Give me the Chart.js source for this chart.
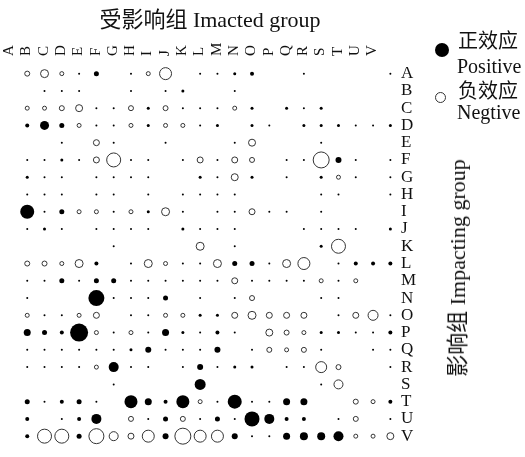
<!DOCTYPE html>
<html>
<head>
<meta charset="utf-8">
<script src="https://cdn.jsdelivr.net/npm/chart.js@4"></script>
<style>
  body { margin: 0; background: #fff; }
  #wrap { position: relative; width: 525px; height: 457px; }
  .txt { position: absolute; font-family: "Liberation Serif", "Noto Sans CJK SC", serif; color: #111; white-space: nowrap; }
  .dot { position: absolute; border-radius: 50%; box-sizing: border-box; }
</style>
</head>
<body>
<div id="wrap">
  <canvas id="matrix" width="525" height="457"></canvas>
  <div class="txt" style="left:0; width:420px; top:7px; line-height:26px; text-align:center; font-size:22px;">受影响组 Imacted group</div>
  <div class="dot" style="left:435px; top:43px; width:14px; height:14px; background:#000;"></div>
  <div class="txt" style="left:458px; top:30px; line-height:23px; font-size:20px;">正效应</div>
  <div class="txt" style="left:457px; top:55px; line-height:23px; font-size:20px;">Positive</div>
  <div class="dot" style="left:435px; top:92px; width:11px; height:11px; border:1px solid #333;"></div>
  <div class="txt" style="left:458px; top:80px; line-height:23px; font-size:20px;">负效应</div>
  <div class="txt" style="left:457px; top:101px; line-height:23px; font-size:20px;">Negtive</div>
  <div class="txt" style="left:458px; top:268px; line-height:24px; font-size:22px; transform:translate(-50%,-50%) rotate(-90deg);">影响组 Impacting group</div>
</div>
<script>
// 受影响组（列）与影响组（行）
const cols = ['A','B','C','D','E','F','G','H','I','J','K','L','M','N','O','P','Q','R','S','T','U','V'];
const rows = ['A','B','C','D','E','F','G','H','I','J','K','L','M','N','O','P','Q','R','S','T','U','V'];

// 每行的效应值：正数 = 正效应（实心），负数 = 负效应（空心），0 = 无
//            A    B    C    D    E    F    G    H    I    J    K    L    M    N    O    P    Q    R    S    T    U    V
const effA = [-2.5,-4,  -2,   1,  2.5,  0,   1,  -2,  -6,   0,   1,   1,  1.5,  2,   0,   0,   1,   0,   0,   0,   0,   1];
const effB = [ 0,   1,   1,   1,   0,   0,   1,   0,   1,  1.5,  0,   0,   1,   0,   0,   0,   0,   0,   0,   0,   0,   0];
const effC = [-2,  -2, -2.5,-3.5,  1,   1, -2.5, 1.5,-2.5,  1,   1,   1,  -2,  1.5,  0,  1.5,  1,  1.5,  0,   0,   0,   0];
const effD = [ 2,  4.5, 2.5, -2,   1,   1,  -2,  1.5, -2,  -2,   1,  1.5,  0,  1.5,  1,   0,  1.5, 1.5, 1.5,  1,   1,  1.5];
const effE = [ 0,   0,   1,   0,  -3,   1,   0,   0,   1,   0,   0,   0,   1, -3.5,  0,   0,   0,   1,   0,   0,   0,   0];
const effF = [ 1,   1,  1.5,  1,  -3,  -7,   1,   1,   0,   1,  -3,   1,  -3, -2.5,  0,   1,   1,  -8,   3,   1,   0,   1];
const effG = [1.5,  1,   1,   0,   1,   1,   1,   1,   0,   0,  1.5,  1, -3.5, 1.5,  0,   1,   0,  1.5, -2,   1,   0,   1];
const effH = [ 1,   1,   1,   0,   1,   1,   0,   1,   0,   1,   1,   1,   1,   0,   0,   0,   0,   1,   1,   0,   0,   1];
const effI = [ 7,   1,  2.5, -2,  -2,   1,  -2,  1.5, -4,   1,   0,   1,   1,  -3,   1,   1,   0,   1,   0,   0,   0,   0];
const effJ = [ 1,  1.5,  1,   0,   1,   1,   1,   1,   0,  1.5,  1,   1,   1,   0,   0,   0,   1,   1,   1,   1,   0,  1.5];
const effK = [ 0,   0,   0,   0,   0,   1,   0,   0,   0,   0,  -4,   0,   1,   0,   0,   0,   0,  1.5, -7,   0,   0,   0];
const effL = [-2.5,-2.5, -2,  -4,   2,   0,   1,  -4,  -2,   1,   1,  -4,  2.5, 2.5,  1,  -4,  -6,   0,   1,   2,   2,   2];
const effM = [ 1,   1,  2.5,  1,  2.5, 2.5,  1,   1,   1,   1,   1,   1,  -3,   1,   1,   1,   1,  -2,   1,  -2,   0,   0];
const effN = [ 1,   0,   0,   0,   8,   1,   1,   1,  2.5,  0,   1,   0,   1, -2.5,  0,   0,   0,   1,   1,   0,   0,   0];
const effO = [-2,   1,   1,  -2,  -3,   0,   1,   1,  -2,  -2,  1.5, 1.5, -3,  -4,  -3,  -3,  -3,   0,   1,  -3,  -5,   1];
const effP = [3.5, 2.5,  2,   9,  -2,   1,  -2,   1,  3.5, 1.5,  1,   2,   1,   0, -3.5,-2.5, -2,  1.5, 1.5,  1,   1,   2];
const effQ = [ 1,   1,   1,   1,   1,   1,  1.5,  3,   1,   1,   1,   3,   0,   1, -2.5, -2, -2.5,  1,   0,   0,   1,   1];
const effR = [ 1,   1,   1,   1,  -2,   5,   1,   1,   0,   1,   3,   1,  1.5, 1.5,  0,   1,   1, -5.5,-2.5,  0,   0,   1];
const effS = [ 0,   0,   0,   0,   0,   1,   0,   0,   0,   0,  5.5,  0,   0,   0,   0,   0,   0,   1, -4.5,  0,   0,   0];
const effT = [2.5,  1,   2,  2.5,  1,   0,  6.5, 3.5,  2,  6.5, -2,   1,   7,   1,   1,  3.5, 3.5,  0,   0, -2.5, -2,   2];
const effU = [ 2,   0,   1,   2,   5,   0, -2.5,  1,  2.5,-2.5,  1,  2.5,  1,  7.5,  5,   2,   2,   0,   1, -2.5,  0,   1];
const effV = [ 2,  -7,  -7,  2.5,-7.5,-4.5, -3,  -6,   3,  -8,  -6,  -6,   3,   1,   1,  3.5,  4,   4,   5,  -2,  -2, -3.5];

const effects = [effA, effB, effC, effD, effE, effF, effG, effH, effI, effJ, effK,
                 effL, effM, effN, effO, effP, effQ, effR, effS, effT, effU, effV];

// 拆成正效应和负效应两组气泡
const positive = [];
const negative = [];
effects.forEach((row, i) => {
    row.forEach((v, j) => {
        if (v > 0) positive.push({ x: cols[j], y: rows[i], r: v });
        if (v < 0) negative.push({ x: cols[j], y: rows[i], r: -v });
    });
});

const serif = '"Liberation Serif", "Times New Roman", serif';

new Chart(document.getElementById('matrix'), {
    type: 'bubble',
    data: {
        datasets: [{
            label: '负效应 Negtive',
            data: negative,
            backgroundColor: 'rgba(255,255,255,0)',
            borderColor: '#333',
            borderWidth: 1,
            clip: false
        }, {
            label: '正效应 Positive',
            data: positive,
            backgroundColor: '#000',
            borderColor: '#000',
            borderWidth: 0,
            clip: false
        }]
    },
    options: {
        responsive: false,
        animation: false,
        events: [],
        layout: {
            padding: { left: 10, top: 25, right: 109, bottom: 7 }
        },
        plugins: {
            legend: { display: false },
            tooltip: { enabled: false }
        },
        scales: {
            x: {
                type: 'category',
                labels: cols,
                position: 'top',
                offset: true,
                grid: { display: false, drawTicks: false },
                border: { display: false },
                ticks: {
                    color: '#111',
                    font: { family: serif, size: 15 },
                    minRotation: 90,
                    maxRotation: 90,
                    autoSkip: false,
                    padding: 9
                },
                afterFit: (scale) => { scale.height = 40; }
            },
            y: {
                type: 'category',
                labels: rows,
                position: 'right',
                offset: true,
                grid: { display: false, drawTicks: false },
                border: { display: false },
                ticks: {
                    color: '#111',
                    font: { family: serif, size: 17 },
                    autoSkip: false,
                    padding: 2
                },
                afterFit: (scale) => { scale.width = 17; }
            }
        }
    }
});
</script>
</body>
</html>
